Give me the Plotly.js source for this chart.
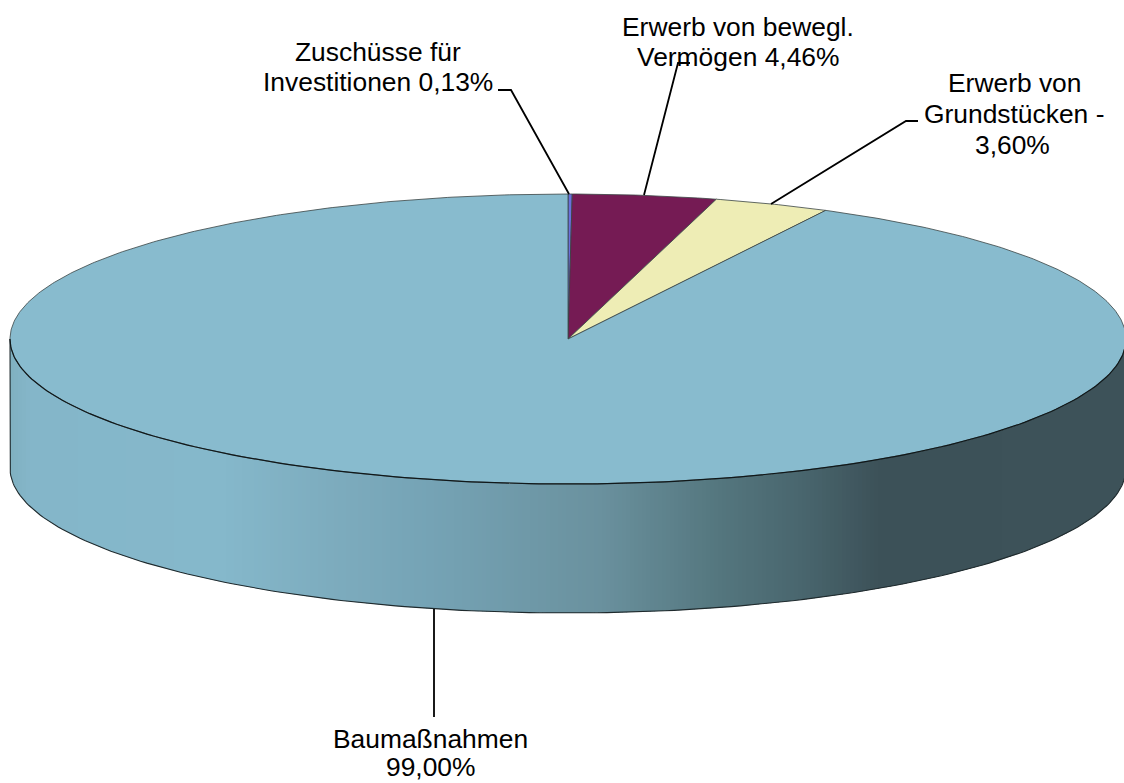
<!DOCTYPE html>
<html><head><meta charset="utf-8">
<script src="https://cdn.plot.ly/plotly-3.0.1.min.js"></script>
<style>html,body{margin:0;padding:0;background:#fff}#c{width:1124px;height:783px}</style>
</head><body><div id="c"></div>
<script>
// Data (the chart draws slices by absolute value)
const categories = ["Zuschüsse für Investitionen", "Erwerb von bewegl. Vermögen", "Erwerb von Grundstücken", "Baumaßnahmen"];
const values = [0.13, 4.46, -3.60, 99.00];
const labelLines = [["Zuschüsse für", "Investitionen 0,13%"], ["Erwerb von bewegl.", "Vermögen 4,46%"], ["Erwerb von", "Grundstücken -", "3,60%"], ["Baumaßnahmen", "99,00%"]];
const sliceColors = ["#6a70dc", "#751b54", "#eeedb5", "#88bbce"];

// Drawing geometry
const cx = 568, cy = 339, rx = 558, ry = 145, depth = 129;
const labelLineX = [[378, 378], [738, 738], [1014.5, 1014, 1012.5], [430.5, 430.5]];
const labelLineY = [[52, 82], [27, 57], [83, 114, 145], [739, 767]];
const leaderX = [[498, 511, 569], [690, 678, 644], [918, 906, 771], [434, 434]];
const leaderY = [[90, 90, 194], [63, 63, 195], [121, 121, 204], [609, 717]];
const sideStops = [[10, [127,176,192]], [30, [132,182,201]], [220, [133,184,203]], [330, [125,172,190]],
  [430, [117,163,181]], [600, [106,145,158]], [720, [84,118,126]], [800, [73,102,110]], [880, [60,81,88]], [1127, [61,82,89]]];

function sideColor(x) {
  for (let i = 1; i < sideStops.length; i++) {
    if (x <= sideStops[i][0]) {
      const a = sideStops[i-1], b = sideStops[i], t = Math.max(0, (x - a[0]) / (b[0] - a[0]));
      return "rgb(" + a[1].map((v, k) => Math.round(v + (b[1][k] - v) * t)).join(",") + ")";
    }
  }
  return "rgb(61,82,89)";
}
const lowerEdge = x => cy + ry * Math.sqrt(Math.max(0, 1 - Math.pow((x - cx) / rx, 2)));
const traces = [];

// Side wall: narrow strips carrying the horizontal gradient
const strip = 4;
for (let x = cx - rx; x < cx + rx; x += strip) {
  const xs = [], ys = [], x1 = Math.min(x + strip + 1, cx + rx);
  for (let p = x; p < x1; p += 1) { xs.push(p); ys.push(lowerEdge(p)); }
  xs.push(x1); ys.push(lowerEdge(x1));
  const bx = xs.slice().reverse(), by = ys.slice().reverse().map(v => v + depth);
  traces.push({type: "scatter", mode: "lines", x: xs.concat(bx), y: ys.concat(by), fill: "toself",
    fillcolor: sideColor(x + strip / 2), line: {width: 0}, hoverinfo: "skip", showlegend: false});
}
// Side wall outline
{
  const xs = [cx - rx], ys = [cy];
  for (let d = 180; d <= 360; d += 1) {
    const a = d * Math.PI / 180;
    xs.push(cx + rx * Math.cos(a)); ys.push(cy - ry * Math.sin(a) + depth);
  }
  xs.push(cx + rx); ys.push(cy);
  traces.push({type: "scatter", mode: "lines", x: xs, y: ys, line: {color: "#1f2a2d", width: 1.1}, hoverinfo: "skip", showlegend: false});
}
// Top face slices, clockwise from twelve o'clock, sized from the data
const total = values.reduce((s, v) => s + Math.abs(v), 0);
let start = 0;
values.forEach((v, i) => {
  const sweep = Math.abs(v) / total * 360;
  const xs = [cx], ys = [cy];
  const n = Math.max(2, Math.ceil(sweep * 2));
  for (let k = 0; k <= n; k++) {
    const a = (start + sweep * k / n) * Math.PI / 180;
    xs.push(cx + rx * Math.sin(a)); ys.push(cy - ry * Math.cos(a));
  }
  xs.push(cx); ys.push(cy);
  traces.push({type: "scatter", mode: "lines", name: categories[i], x: xs, y: ys, fill: "toself",
    fillcolor: sliceColors[i], line: {color: "#3a4444", width: 0.8}, hoverinfo: "skip", showlegend: false});
  start += sweep;
});
// Darker front rim of the top face
{
  const xs = [], ys = [];
  for (let d = 180; d <= 360; d += 1) {
    const a = d * Math.PI / 180;
    xs.push(cx + rx * Math.cos(a)); ys.push(cy - ry * Math.sin(a));
  }
  traces.push({type: "scatter", mode: "lines", x: xs, y: ys, line: {color: "#10181a", width: 1.2}, hoverinfo: "skip", showlegend: false});
}
// Leader lines
leaderX.forEach((lx, i) => traces.push({type: "scatter", mode: "lines", x: lx, y: leaderY[i],
  line: {color: "#000", width: 1.8}, hoverinfo: "skip", showlegend: false}));

const annotations = [];
labelLines.forEach((lines, i) => lines.forEach((t, j) => annotations.push({
  text: t, x: labelLineX[i][j], y: labelLineY[i][j], xref: "x", yref: "y",
  xanchor: "center", yanchor: "middle", align: "center", showarrow: false,
  font: {family: "Liberation Sans, Arial, sans-serif", size: 26.4, color: "#000"}})));

Plotly.newPlot("c", traces, {
  width: 1124, height: 783, margin: {l: 0, r: 0, t: 0, b: 0},
  paper_bgcolor: "#fff", plot_bgcolor: "#fff", showlegend: false,
  xaxis: {range: [0, 1124], visible: false, fixedrange: true},
  yaxis: {range: [783, 0], visible: false, fixedrange: true},
  annotations: annotations
}, {displayModeBar: false, staticPlot: true});
</script></body></html>
